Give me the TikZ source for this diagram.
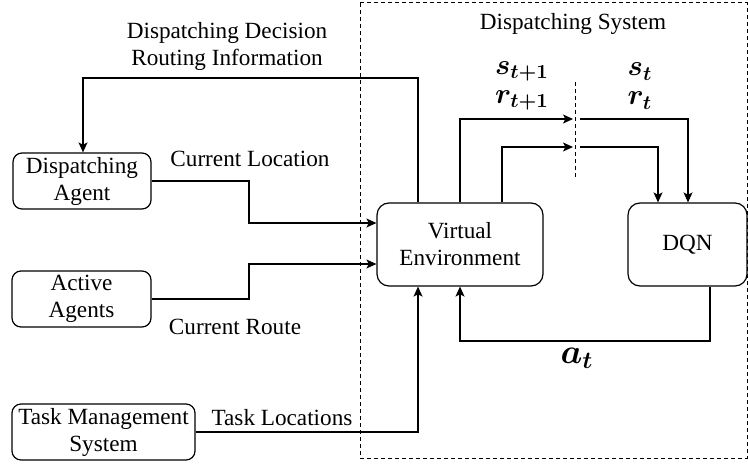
\documentclass[tikz,border=0pt]{standalone}
\usepackage{fontspec}
\setmainfont{Liberation Serif}
\usepackage{bm}
\usetikzlibrary{arrows.meta}
\begin{document}
\begin{tikzpicture}[x=0.5pt,y=-0.5pt, line width=0.6pt,
  txt/.style={font=\fontsize{11.6}{13.5}\selectfont},
  box/.style={draw, rounded corners=4.5pt, inner sep=0pt, align=center, txt},
  lbl/.style={align=center, inner sep=0pt, txt},
  mlbl/.style={align=center, inner sep=0pt, font=\fontsize{14}{14.5}\selectfont},
  arr/.style={-{Stealth[length=5pt,width=4.5pt,inset=1.2pt]}},
  sysbox/.style={draw, dash pattern=on 2pt off 1.5pt, line width=0.5pt}]
\useasboundingbox (0,0) rectangle (748,465);

% system boundary
\draw[sysbox] (360,3) rectangle (747,458);

% nodes
\node[box, minimum width=69pt, minimum height=28pt] (da) at (82,181) {Dispatching\\Agent};
\node[box, minimum width=69.5pt, minimum height=28pt] (aa) at (81.5,299) {Active\\Agents};
\node[box, minimum width=91.5pt, minimum height=28pt] (tms) at (103.5,432) {Task Management\\System};
\node[box, minimum width=83pt, minimum height=41.5pt, rounded corners=6pt] (ve) at (460,244.5) {Virtual\\Environment};
\node[box, minimum width=59.5pt, minimum height=41.5pt, rounded corners=6pt] (dqn) at (687.5,244.5) {DQN};

% labels
\node[lbl] (l1) at (227,46) {Dispatching Decision\\Routing Information};
\node[lbl] (l2) at (250,159) {Current Location};
\node[lbl] (l3) at (235,327) {Current Route};
\node[lbl] (l4) at (282,418) {Task Locations};
\node[lbl] (l5) at (573,24) {Dispatching System};
\node[mlbl] (l6) at (522,86) {$\bm{s_{t+1}}$\\$\bm{r_{t+1}}$};
\node[mlbl] (l7) at (640,86) {$\bm{s_{t}}$\\$\bm{r_{t}}$};
\node[inner sep=0pt, font=\fontsize{17}{19}\selectfont] (l8) at (577,358) {$\bm{a_{t}}$};

% coordinates
\coordinate (c1) at (418,78);
\coordinate (c2) at (83,78);
\coordinate (cl) at (249,223);
\coordinate (cr) at (249,264);
\coordinate (tl) at (418,432);
\coordinate (at1) at (710,341);
\coordinate (at2) at (460,341);
\coordinate (p1) at (460,119);
\coordinate (p2) at (573,119);
\coordinate (q1) at (580,119);
\coordinate (q2) at (688,119);
\coordinate (p3) at (502,147);
\coordinate (p4) at (573,147);
\coordinate (q3) at (580,147);
\coordinate (q4) at (658,147);
\coordinate (s1) at (575,82);
\coordinate (s2) at (575,177);

% connectors
\draw[arr] (ve.north -| c1) -- (c1) -- (c2) -- (da.north -| c2);
\draw[arr] (da.east) -| (cl) -- (ve.west |- cl);
\draw[arr] (aa.east) -| (cr) -- (ve.west |- cr);
\draw[arr] (tms.east) -- (tms.east -| tl) -- (ve.south -| tl);
\draw[arr] (dqn.south -| at1) -- (at1) -- (at2) -- (ve.south -| at2);
\draw[arr] (ve.north -| p1) -- (p1) -- (p2);
\draw[arr] (q1) -- (q2) -- (dqn.north -| q2);
\draw[arr] (ve.north -| p3) -- (p3) -- (p4);
\draw[arr] (q3) -- (q4) -- (dqn.north -| q4);
\draw[dash pattern=on 2pt off 1.5pt, line width=0.5pt] (s1) -- (s2);
\end{tikzpicture}
\end{document}
